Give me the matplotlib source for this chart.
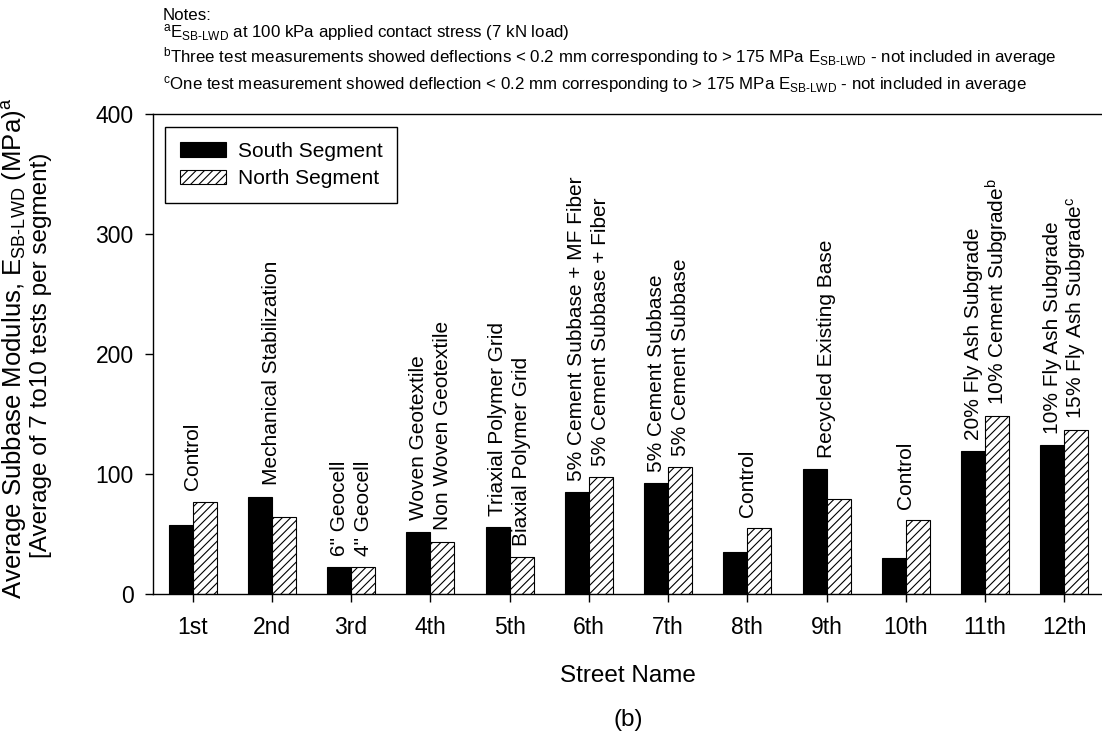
import numpy as np
import matplotlib
matplotlib.use('Agg')
import matplotlib.pyplot as plt

plt.rcParams['font.family'] = ['Liberation Sans', 'DejaVu Sans']
plt.rcParams['mathtext.fontset'] = 'custom'
plt.rcParams['mathtext.rm'] = 'Liberation Sans'
plt.rcParams['mathtext.it'] = 'Liberation Sans:italic'
plt.rcParams['mathtext.bf'] = 'Liberation Sans:bold'
plt.rcParams['hatch.linewidth'] = 0.8

# data
streets = ['1st', '2nd', '3rd', '4th', '5th', '6th', '7th', '8th', '9th', '10th', '11th', '12th']
south = [57.8, 81.2, 22.2, 52.0, 55.9, 84.8, 92.6, 34.7, 104.3, 29.7, 119.3, 124.0]
north = [77.0, 64.5, 22.8, 43.7, 30.9, 97.3, 105.7, 54.8, 79.3, 61.4, 148.0, 136.6]

south_notes = ['', '', '6" Geocell', 'Woven Geotextile', 'Triaxial Polymer Grid',
               '5% Cement Subbase + MF Fiber', '5% Cement Subbase', '', '', '',
               '20% Fly Ash Subgrade', '10% Fly Ash Subgrade']
north_notes = ['', '', '4" Geocell', 'Non Woven Geotextile', 'Biaxial Polymer Grid',
               '5% Cement Subbase + Fiber', '5% Cement Subbase', '', '', '',
               r'10% Cement Subgrade$^{\mathrm{b}}$', r'15% Fly Ash Subgrade$^{\mathrm{c}}$']
group_notes = ['Control', 'Mechanical Stabilization', '', '', '', '', '',
               'Control', 'Recycled Existing Base', 'Control', '', '']

esb = r'E$_{\mathrm{SB\text{-}LWD}}$'
notes = ['Notes:',
         r'$^{\mathrm{a}}$' + esb + ' at 100 kPa applied contact stress (7 kN load)',
         r'$^{\mathrm{b}}$Three test measurements showed deflections < 0.2 mm corresponding to > 175 MPa '
         + esb + ' - not included in average',
         r'$^{\mathrm{c}}$One test measurement showed deflection < 0.2 mm corresponding to > 175 MPa '
         + esb + ' - not included in average']

fig = plt.figure(figsize=(11.02, 7.41), dpi=100)
ax = fig.add_axes([153 / 1102, 1 - 594 / 741, 951 / 1102, 480 / 741])

x = np.arange(len(streets))
w = 0.303
ax.bar(x - w / 2, south, w, color='black', edgecolor='black', linewidth=0.8,
       label='South Segment')
ax.bar(x + w / 2, north, w, color='white', edgecolor='black', linewidth=0.8,
       hatch='////', label='North Segment')

# rotated treatment labels above bars
for i in range(len(streets)):
    if south_notes[i]:
        ax.annotate(south_notes[i], (x[i] - w / 2, south[i]), xytext=(0, 8),
                    textcoords='offset points', rotation=90, ha='center',
                    va='bottom', fontsize=15)
    if north_notes[i]:
        ax.annotate(north_notes[i], (x[i] + w / 2, north[i]), xytext=(0, 8),
                    textcoords='offset points', rotation=90, ha='center',
                    va='bottom', fontsize=15)
    if group_notes[i]:
        ax.annotate(group_notes[i], (x[i], max(south[i], north[i])), xytext=(0, 8),
                    textcoords='offset points', rotation=90, ha='center',
                    va='bottom', fontsize=15)

ax.set_xlim(-0.5, 11.5)
ax.set_ylim(0, 400)
ax.set_yticks([0, 100, 200, 300, 400])
ax.set_xticks(x)
ax.set_xticklabels(streets)
ax.tick_params(axis='both', direction='out', length=6, width=1.0, labelsize=16.5)
ax.tick_params(axis='x', pad=10)
ax.tick_params(axis='y', pad=8)
for spine in ax.spines.values():
    spine.set_linewidth(1.0)

leg = ax.legend(loc='upper left', bbox_to_anchor=(12 / 951, 1 - 13 / 480),
                borderaxespad=0, fontsize=15, frameon=True, fancybox=False,
                edgecolor='black', framealpha=1, handlelength=2.25,
                handleheight=0.72, handletextpad=0.55, labelspacing=0.42,
                borderpad=0.7)
leg.get_frame().set_linewidth(1.0)

# axis titles
fig.text(15 / 1102, 1 - 348 / 741,
         r'Average Subbase Modulus, E$_{\mathrm{SB\text{-}LWD}}$ (MPa)$^{\mathrm{a}}$',
         rotation=90, ha='center', va='center', fontsize=18.5)
fig.text(41 / 1102, 1 - 355 / 741, '[Average of 7 to10 tests per segment)',
         rotation=90, ha='center', va='center', fontsize=17.5)
fig.text(628 / 1102, 1 - 676 / 741, 'Street Name', ha='center', va='center', fontsize=17.5)
fig.text(628 / 1102, 1 - 720 / 741, '(b)', ha='center', va='center', fontsize=17.5)

# notes block
note_y = [20, 37.3, 62.7, 89.3]
for t, yy in zip(notes, note_y):
    fig.text(163 / 1102, 1 - yy / 741, t, ha='left', va='baseline', fontsize=12.2)

plt.savefig('out.png', dpi=100)
